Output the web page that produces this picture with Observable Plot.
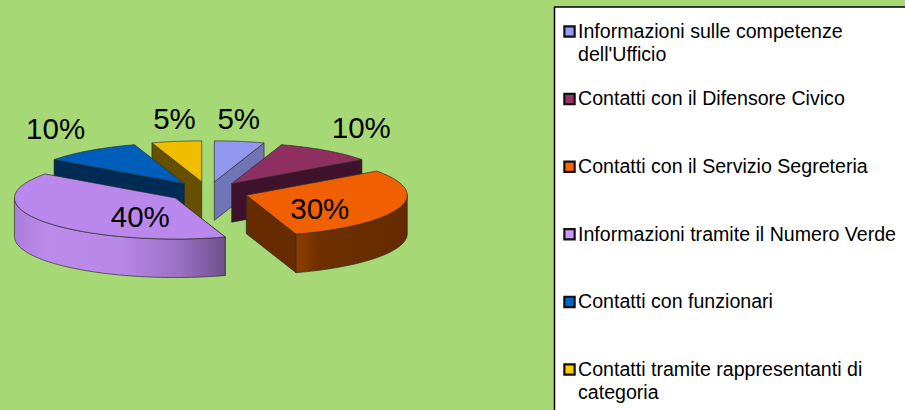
<!DOCTYPE html>
<html>
<head>
<meta charset="utf-8">
<script src="https://cdn.jsdelivr.net/npm/d3@7"></script>
<script src="https://cdn.jsdelivr.net/npm/@observablehq/plot@0.6"></script>
<style>
html,body{margin:0;padding:0;background:#a6d976;overflow:hidden}
svg{display:block}
</style>
</head>
<body>
<script>
// ---- data ----
const categories = [
  "Informazioni sulle competenze\ndell'Ufficio",
  "Contatti con il Difensore Civico",
  "Contatti con il Servizio Segreteria",
  "Informazioni tramite il Numero Verde",
  "Contatti con funzionari",
  "Contatti tramite rappresentanti di\ncategoria"
];
const percentages = [5, 10, 30, 40, 10, 5];
const legendColors = ["#9999ff", "#993366", "#ff6600", "#cc99ff", "#0066cc", "#ffcc00"];
const topColors = ["#9196ee", "#8e2f60", "#f06000", "#ba88ec", "#005ebb", "#f0bd00"];
const edgeColors = ["#6f75b5", "#3f122b", "#662c00", "#71508f", "#002b55", "#665000"];

// ---- pie layout ----
const center = {x: 207.5, y: 191.5}, rx = 161, ry = 41, depth = 38.5, explode = 0.25;
const paintOrder = [0, 5, 1, 4, 2, 3];
const labelReach = [[0.97, 1.55], [1.37, 1.66], [0.48, 1.1], [0.27, 0.8], [1.36, 1.63], [1.08, 1.55]];
const wallFill = {2: "url(#orangeWall)", 3: "url(#purpleWall)"};
const wallSpan = {2: [90, 162], 3: [162, 270]};

const total = d3.sum(percentages);
const rad = (a) => (a * Math.PI) / 180;
const onRim = (a) => ({dx: rx * Math.sin(rad(a)), dy: -ry * Math.cos(rad(a))});
let running = 0;
const slices = percentages.map((v, i) => {
  const start = (running / total) * 360;
  running += v;
  const end = (running / total) * 360;
  const mid = (start + end) / 2, m = onRim(mid);
  return {i, v, start, end, mid, ax: center.x + explode * m.dx, ay: center.y + explode * m.dy};
});
const arcPts = (s, a0, a1) => d3.range(0, 61).map((k) => {
  const a = a0 + ((a1 - a0) * k) / 60, p = onRim(a);
  return {x: s.ax + p.dx, y: s.ay + p.dy};
});

const shapes = [];
const add = (id, fill, pts) => pts.forEach((p) => shapes.push({id, fill, x: p.x, y: p.y}));
for (const i of paintOrder) {
  const s = slices[i];
  // radial wall facing the viewer
  const edgeA = s.mid < 180 ? s.end : s.start, e = onRim(edgeA);
  const t1 = {x: s.ax, y: s.ay}, t2 = {x: s.ax + e.dx, y: s.ay + e.dy};
  add(`edge${i}`, edgeColors[i], [t1, t2, {x: t2.x, y: t2.y + depth}, {x: t1.x, y: t1.y + depth}, t1]);
  // outer rim wall
  if (wallSpan[i]) {
    const arc = arcPts(s, ...wallSpan[i]);
    const low = arc.slice().reverse().map((p) => ({x: p.x, y: p.y + depth}));
    add(`rim${i}`, wallFill[i], [...arc, ...low, arc[0]]);
  }
  // top face
  add(`top${i}`, topColors[i], [t1, ...arcPts(s, s.start, s.end), t1]);
}

const pctLabels = slices.map((s) => {
  const p = onRim(s.mid), [kx, ky] = labelReach[s.i];
  return {x: s.ax + kx * p.dx, y: s.ay + ky * p.dy, text: `${s.v}%`};
});

// ---- legend ----
const legendRows = categories.map((c, i) => ({c, color: legendColors[i], y: 31 + 67.6 * i}));
const legendLines = legendRows.flatMap((r) => r.c.split("\n").map((t, j) => ({t, y: r.y + 23 * j})));

function gradient(defs, id, stops) {
  const g = defs.append("linearGradient").attr("id", id).attr("x1", 0).attr("x2", 1).attr("y1", 0).attr("y2", 0);
  stops.forEach(([o, c]) => g.append("stop").attr("offset", o).attr("stop-color", c));
}
const defsMark = () => {
  const defs = d3.create("svg:defs");
  gradient(defs, "purpleWall", [[0, "#ab7edb"], [0.15, "#bb8aeb"], [0.5, "#b888e6"], [0.78, "#9a70c4"], [1, "#70508e"]]);
  gradient(defs, "orangeWall", [[0, "#8f3d00"], [0.22, "#6d2f00"], [1, "#652b00"]]);
  return defs.node();
};

const chart = Plot.plot({
  width: 905,
  height: 410,
  margin: 0,
  style: {background: "#a6d976", fontFamily: "'Liberation Sans', Arial, sans-serif"},
  x: {domain: [0, 905], range: [0, 905], axis: null},
  y: {domain: [0, 410], range: [0, 410], axis: null},
  color: {type: "identity"},
  marks: [
    defsMark,
    Plot.line(shapes, {x: "x", y: "y", z: "id", fill: "fill", stroke: "#2b2b2b", strokeOpacity: 0.75, strokeWidth: 0.9, curve: "linear"}),
    Plot.text(pctLabels, {x: "x", y: "y", text: "text", fontSize: 29.5, fill: "#000", textAnchor: "middle", lineAnchor: "middle"}),
    Plot.rect([{}], {x1: () => 554.5, x2: () => 915, y1: () => 7, y2: () => 420, fill: "#fff", stroke: "#000", strokeWidth: 1.5}),
    Plot.dot(legendRows, {x: () => 569, y: "y", symbol: "square", r: 5.8, fill: "color", stroke: "#111", strokeWidth: 2.2}),
    Plot.text(legendLines, {x: () => 577.5, y: "y", text: "t", fontSize: 19.6, fill: "#000", textAnchor: "start", lineAnchor: "middle"})
  ]
});
document.body.appendChild(chart);
</script>
</body>
</html>
